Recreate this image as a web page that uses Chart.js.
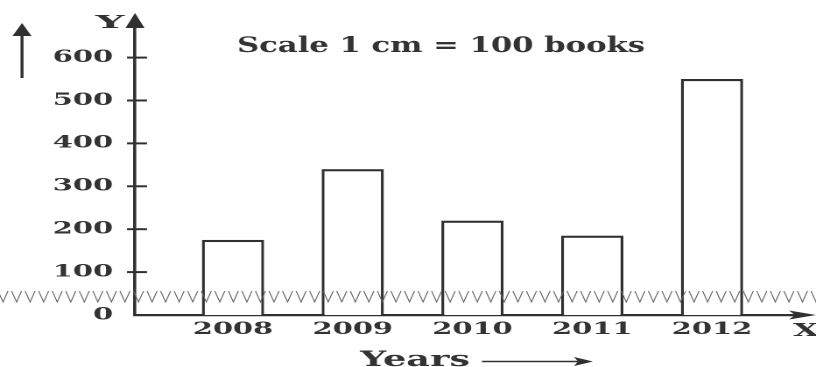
<!DOCTYPE html>
<html><head><meta charset="utf-8">
<script src="https://cdn.jsdelivr.net/npm/chart.js@4.4.1/dist/chart.umd.min.js"></script>
<style>html,body{margin:0;padding:0;background:#fff;overflow:hidden}canvas{display:block}</style>
</head>
<body>
<canvas id="c" width="466" height="367" style="width:816px;height:367px"></canvas>
<script>
// ---- data ----
const years = [2008, 2009, 2010, 2011, 2012];
const yearLabels = ['2008', '2009', '2010', '2011', '2012'];
const books = [175, 340, 220, 185, 550];
const yTickLabels = ['0', '100', '200', '300', '400', '500', '600'];
const titleText = 'Scale 1 cm = 100 books';
const xAxisTitle = 'Years';
const yAxisLetter = 'Y';
const xAxisLetter = 'X';

// ---- drawing helpers (canvas is drawn narrow and stretched horizontally like the reference) ----
const W = 466, SX = 816 / W;
const rx = v => v / SX;
const INK = '#303030';
const TXT = '#333333';
const FONT = "'DejaVu Serif', 'Liberation Serif', serif";

function line(ctx, x1, y1, x2, y2) { ctx.beginPath(); ctx.moveTo(x1, y1); ctx.lineTo(x2, y2); ctx.stroke(); }
function tri(ctx, pts) { ctx.beginPath(); ctx.moveTo(pts[0][0], pts[0][1]); for (let i = 1; i < pts.length; i++) ctx.lineTo(pts[i][0], pts[i][1]); ctx.closePath(); ctx.fill(); }
function fitText(ctx, text, cx, baseline, size, targetW) {
  ctx.font = 'bold ' + size + 'px ' + FONT;
  const w = ctx.measureText(text).width;
  ctx.save(); ctx.translate(cx, baseline); ctx.scale(targetW / w, 1);
  ctx.textAlign = 'center'; ctx.textBaseline = 'alphabetic'; ctx.fillText(text, 0, 0); ctx.restore();
}

const decor = {
  id: 'decor',
  afterDraw(chart) {
    const ctx = chart.ctx, ys = chart.scales.y, ca = chart.chartArea;
    ctx.save();
    ctx.strokeStyle = INK; ctx.fillStyle = INK;
    // y tick marks crossing the axis
    ctx.lineWidth = 2;
    ys.ticks.forEach(t => { if (t.value === 0) return; const py = ys.getPixelForValue(t.value); line(ctx, rx(127), py, rx(147), py); });
    // y axis arrow
    ctx.lineWidth = 1.8;
    line(ctx, ca.left, ca.top, ca.left, 24);
    tri(ctx, [[ca.left, 13], [ca.left - rx(9.5), 28], [ca.left + rx(9.5), 28]]);
    // x axis arrow
    ctx.lineWidth = 2.2;
    line(ctx, ca.right, ca.bottom, rx(800), ca.bottom);
    tri(ctx, [[rx(816), ca.bottom], [rx(789), ca.bottom - 4.5], [rx(795), ca.bottom], [rx(789), ca.bottom + 4.5]]);
    // left up arrow
    ctx.lineWidth = 1.7;
    line(ctx, rx(22), 78, rx(22), 32);
    tri(ctx, [[rx(22), 23], [rx(12.5), 36], [rx(31.5), 36]]);
    // years arrow
    ctx.lineWidth = 1.4;
    line(ctx, rx(482), 361.5, rx(580), 361.5);
    tri(ctx, [[rx(593), 361.5], [rx(574), 357], [rx(578), 361.5], [rx(574), 366]]);
    // zigzag break line
    ctx.strokeStyle = '#666'; ctx.lineWidth = 0.6;
    const P = rx(13.55);
    for (let xx = rx(-3); xx < W; xx += P) {
      ctx.beginPath(); ctx.moveTo(xx + rx(1), 291); ctx.lineTo(xx + rx(6), 302); ctx.lineTo(xx + rx(11), 291); ctx.stroke();
    }
    // texts
    ctx.fillStyle = TXT;
    fitText(ctx, titleText, rx(441), 52, 21, rx(408));
    fitText(ctx, yAxisLetter, rx(110), 28, 18, rx(29));
    fitText(ctx, xAxisLetter, rx(806), 336, 18, rx(26));
    fitText(ctx, xAxisTitle, rx(415), 366, 21, rx(110));
    ctx.restore();
  }
};

new Chart(document.getElementById('c'), {
  type: 'bar',
  data: {
    datasets: [{
      data: years.map((yr, i) => ({ x: yr, y: books[i] })),
      backgroundColor: '#ffffff',
      borderColor: INK,
      borderWidth: { top: 2.2, left: 1.7, right: 1.7, bottom: 0 },
      borderSkipped: 'start',
      categoryPercentage: 1,
      barPercentage: 0.52
    }]
  },
  options: {
    responsive: false,
    animation: false,
    devicePixelRatio: 2,
    layout: { padding: { top: 22, right: W - rx(800), bottom: 0, left: 0 } },
    plugins: { legend: { display: false }, tooltip: { enabled: false }, title: { display: false } },
    scales: {
      x: {
        type: 'linear', min: 2007.1817, max: 2012.735, offset: false,
        grid: { display: false, drawTicks: false },
        border: { display: true, color: INK, width: 2.2 },
        ticks: {
          stepSize: 1, includeBounds: false, autoSkip: false, maxRotation: 0, padding: 5,
          color: TXT, font: { family: FONT, size: 16.5, weight: 'bold' },
          callback: v => { const i = years.indexOf(v); return i < 0 ? '' : yearLabels[i]; }
        },
        afterFit(s) { s.height = 367 - 315; }
      },
      y: {
        min: 0, max: 682,
        grid: { display: false, drawTicks: false },
        border: { display: true, color: INK, width: 1.8 },
        ticks: {
          stepSize: 100, includeBounds: false, padding: 12.5,
          color: TXT, font: { family: FONT, size: 16.5, weight: 'bold' },
          callback: v => { const l = yTickLabels[Math.round(v / 100)]; return l === undefined ? '' : l; }
        },
        afterFit(s) { s.width = rx(135); }
      }
    }
  },
  plugins: [decor]
});
</script>
</body></html>
